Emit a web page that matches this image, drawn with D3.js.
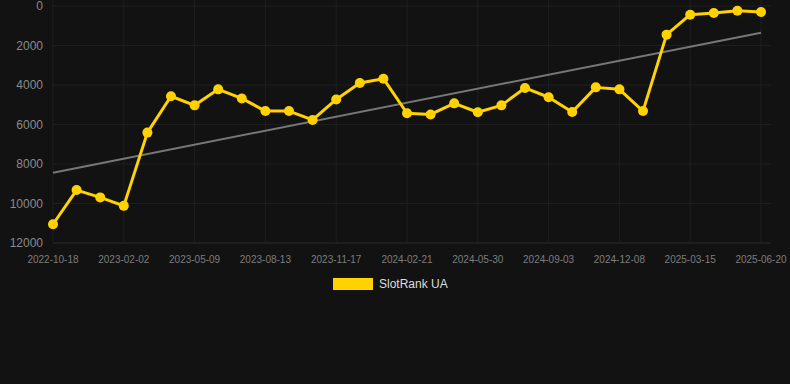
<!DOCTYPE html>
<html>
<head>
<meta charset="utf-8">
<script src="https://cdn.jsdelivr.net/npm/d3@7"></script>
<style>
  html, body { margin: 0; padding: 0; background: #121212; }
  svg { display: block; font-family: "Liberation Sans", Arial, sans-serif; }
</style>
</head>
<body>
<script>
// tick labels, every third point
var tickLabels = ["2022-10-18","2023-02-02","2023-05-09","2023-08-13","2023-11-17",
  "2024-02-21","2024-05-30","2024-09-03","2024-12-08","2025-03-15","2025-06-20"];

// rank values (lower is better), one per point
var rankValues = [11050, 9320, 9690, 10120, 6410, 4570, 5030, 4220, 4680, 5320, 5320,
  5770, 4730, 3900, 3680, 5430, 5490, 4930, 5380, 5030, 4150, 4620, 5370,
  4120, 4220, 5320, 1450, 440, 350, 240, 300];

var trendValues = [8440, 1350];
var yTicks = [0, 2000, 4000, 6000, 8000, 10000, 12000];
var seriesName = "SlotRank UA";

var width = 790, height = 384;
var margin = {left: 53, right: 29, top: 6, bottom: 141};

var svg = d3.select("body").append("svg")
  .attr("width", width)
  .attr("height", height);

var x = d3.scaleLinear()
  .domain([0, rankValues.length - 1])
  .range([margin.left, width - margin.right]);

var y = d3.scaleLinear()
  .domain([0, 12000])
  .range([margin.top, height - margin.bottom]);

var tickIdx = tickLabels.map(function(d, i) { return i * 3; });

// grid
var grid = svg.append("g").attr("class", "grid");
grid.selectAll("line.h")
  .data(yTicks)
  .enter().append("line")
    .attr("class", "h")
    .attr("x1", x(0)).attr("x2", width - margin.right + 10)
    .attr("y1", function(d) { return y(d); })
    .attr("y2", function(d) { return y(d); })
    .attr("stroke", function(d) { return d == 12000 ? "#2a2a2a" : "#1e1e1e"; })
    .attr("stroke-width", 1);

grid.selectAll("line.v")
  .data(tickIdx)
  .enter().append("line")
    .attr("class", "v")
    .attr("x1", function(d) { return x(d); })
    .attr("x2", function(d) { return x(d); })
    .attr("y1", 0).attr("y2", y(12000))
    .attr("stroke", "#1e1e1e")
    .attr("stroke-width", 1);

// y axis labels
svg.append("g")
  .selectAll("text")
  .data(yTicks)
  .enter().append("text")
    .attr("x", 43)
    .attr("y", function(d) { return y(d); })
    .attr("dy", "0.35em")
    .attr("text-anchor", "end")
    .attr("fill", "#8a8a8a")
    .attr("font-size", 12)
    .text(function(d) { return d; });

// x axis labels
svg.append("g")
  .selectAll("text")
  .data(tickLabels)
  .enter().append("text")
    .attr("x", function(d, i) { return x(i * 3); })
    .attr("y", 259)
    .attr("dy", "0.35em")
    .attr("text-anchor", "middle")
    .attr("fill", "#7d7d7d")
    .attr("font-size", 10)
    .text(function(d) { return d; });

// trend line
svg.append("line")
  .attr("x1", x(0)).attr("x2", x(rankValues.length - 1))
  .attr("y1", y(trendValues[0])).attr("y2", y(trendValues[1]))
  .attr("stroke", "#777")
  .attr("stroke-width", 2);

var gold = "#ffd200";

var line = d3.line()
  .x(function(d, i) { return x(i); })
  .y(function(d) { return y(d); });

svg.append("path")
  .datum(rankValues)
  .attr("d", line)
  .attr("fill", "none")
  .attr("stroke", gold)
  .attr("stroke-width", 3)
  .attr("stroke-linejoin", "round");

svg.append("g")
  .selectAll("circle")
  .data(rankValues)
  .enter().append("circle")
    .attr("cx", function(d, i) { return x(i); })
    .attr("cy", function(d) { return y(d); })
    .attr("r", 5)
    .attr("fill", gold);

// legend
var legend = svg.append("g").attr("transform", "translate(333,278)");
legend.append("rect")
  .attr("width", 40).attr("height", 12)
  .attr("fill", gold);
legend.append("text")
  .attr("x", 46).attr("y", 6)
  .attr("dy", "0.35em")
  .attr("fill", "#dddddd")
  .attr("font-size", 12)
  .text(seriesName);
</script>
</body>
</html>
